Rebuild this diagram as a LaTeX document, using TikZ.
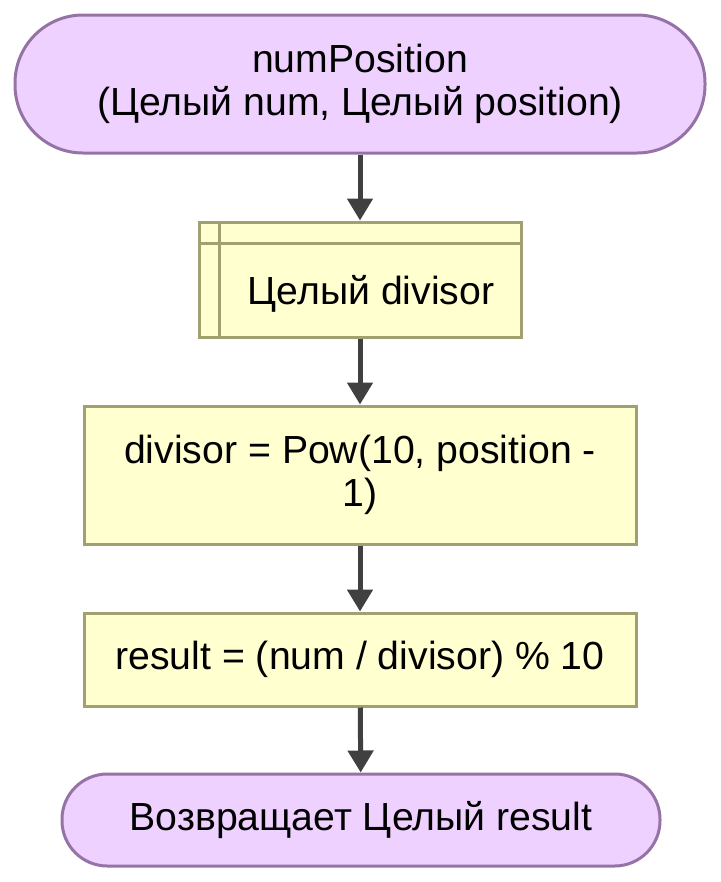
\documentclass[tikz,border=0pt]{standalone}
\usepackage{fontspec}
\setmainfont{Liberation Sans}
\usetikzlibrary{arrows.meta}
\definecolor{termfill}{HTML}{EFD1FF}
\definecolor{termline}{HTML}{9673A6}
\definecolor{boxfill}{HTML}{FFFFD0}
\definecolor{boxline}{HTML}{A0A070}
\definecolor{arrowgray}{HTML}{404040}
\tikzset{
  terminal/.style={draw=termline, fill=termfill, line width=2.25pt, inner sep=0pt, align=center},
  procbox/.style={draw=boxline, fill=boxfill, line width=2.25pt, inner sep=0pt, align=center, minimum width=414pt},
  flowarrow/.style={draw=arrowgray, line width=3.75pt, -{Triangle[length=16.5pt,width=18.75pt]}}
}
\begin{document}
\begin{tikzpicture}[x=0.75pt,y=-0.75pt,font=\fontsize{29.4}{32.5}\selectfont]
\useasboundingbox (0,0) rectangle (721,882);

\node[terminal, minimum width=517.5pt, minimum height=103.5pt, rounded corners=51pt] (start) at (360,84)
  {numPosition\\(Целый num, Целый position)};

\node[procbox, minimum width=241.5pt, minimum height=86.25pt] (decl) at (360,279.5) {};
\draw[boxline, line width=2.25pt] ([xshift=16.5pt]decl.north west) -- ([xshift=16.5pt]decl.south west);
\draw[boxline, line width=2.25pt] ([yshift=-17.25pt]decl.north west) -- ([yshift=-17.25pt]decl.north east);
\node (decltext) at ([shift={(11,14)}]decl.center) {Целый divisor};

\node[procbox, minimum height=103.5pt] (calc) at (360,475) {divisor = Pow(10, position -\\1)};
\node[procbox, minimum height=69.75pt] (mod) at (360,659.5) {result = (num / divisor) \% 10};

\node[terminal, minimum width=448.5pt, minimum height=69pt, rounded corners=34pt] (stop) at (361,820)
  {Возвращает Целый result};

\draw[flowarrow] (start) -- (decl);
\draw[flowarrow] (decl) -- (calc);
\draw[flowarrow] (calc) -- (mod);
\draw[flowarrow] (mod) -- (stop);
\end{tikzpicture}
\end{document}
